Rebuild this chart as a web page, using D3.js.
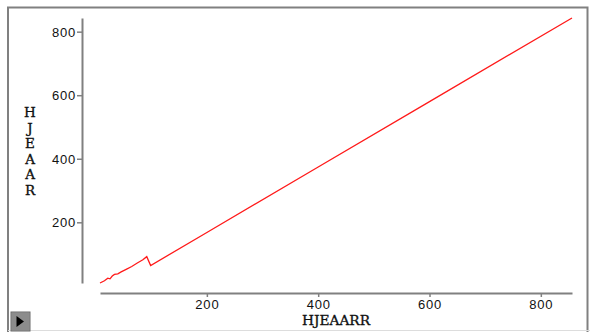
<!DOCTYPE html>
<html><head><meta charset="utf-8">
<script src="https://cdn.jsdelivr.net/npm/d3@7"></script>
<style>
html,body{margin:0;padding:0;background:#fff;}
svg{display:block;}
</style></head>
<body>
<svg id="c" width="590" height="332"></svg>
<script>
const xValues = [8, 16, 22, 26, 30, 34, 40, 46, 55, 65, 75, 85, 92, 99, 200, 400, 600, 856];
const yValues = [9, 16, 24, 22, 31, 36, 38, 44, 52, 61, 72, 82, 92, 64, 168, 374, 580, 843];
const xTicks = [200, 400, 600, 800];
const yTicks = [200, 400, 600, 800];
const xTitle = "HJEAARR";
const yTitle = "HJEAAR";

const svg = d3.select("#c");
const gray = "#808080";

// frame
svg.append("rect").attr("x",8).attr("y",7.5).attr("width",579.5).attr("height",340)
  .attr("fill","none").attr("stroke",gray).attr("stroke-width",2);
svg.append("line").attr("x1",8).attr("x2",590).attr("y1",330.5).attr("y2",330.5)
  .attr("stroke","#ddd").attr("stroke-width",1);

const x = d3.scaleLinear().domain(d3.extent(xValues)).range([100, 572]);
const y = d3.scaleLinear().domain(d3.extent(yValues)).range([283, 18]);

const tickFont = "'Liberation Sans', Arial, sans-serif";

const xAxis = svg.append("g").attr("transform","translate(0,293)")
  .call(d3.axisBottom(x).tickValues(xTicks).tickSize(4).tickPadding(3).tickSizeOuter(0));
const yAxis = svg.append("g").attr("transform","translate(82,0)")
  .call(d3.axisLeft(y).tickValues(yTicks).tickSize(5).tickPadding(1).tickSizeOuter(0));
[xAxis, yAxis].forEach(g => {
  g.select(".domain").attr("stroke", gray).attr("stroke-width", 2);
  g.selectAll(".tick line").attr("stroke", gray).attr("stroke-width", 1.5);
  g.selectAll(".tick text").attr("fill","#111").style("font-family", tickFont)
    .style("font-size","13px").style("letter-spacing","0.8px");
});
xAxis.selectAll(".tick text").attr("dy","0.71em");
yAxis.selectAll(".tick text").attr("dy","0.34em");

// line
const pts = xValues.map((v,i)=>[v, yValues[i]]);
svg.append("path").datum(pts)
  .attr("d", d3.line().x(d=>x(d[0])).y(d=>y(d[1])))
  .attr("fill","none").attr("stroke","#ff1a1a").attr("stroke-width",1.3);

// titles
const titleFont = "'DejaVu Serif', serif";
svg.append("text").attr("x",336).attr("y",325).attr("text-anchor","middle")
  .style("font-family",titleFont).style("font-size","13.5px")
  .attr("textLength",68).attr("lengthAdjust","spacingAndGlyphs")
  .attr("fill","#111").attr("stroke","#111").attr("stroke-width",0.35).text(xTitle);
yTitle.split("").forEach((ch,i)=>{
  svg.append("text").attr("x",30).attr("y",117 + i*15.6).attr("text-anchor","middle")
    .style("font-family",titleFont).style("font-size","13.5px")
    .attr("fill","#111").attr("stroke","#111").attr("stroke-width",0.35).text(ch);
});

// play button
svg.append("rect").attr("x",11).attr("y",312).attr("width",19).attr("height",19)
  .attr("fill","#9a9a9a").attr("stroke","#6a6a6a").attr("stroke-width",1);
svg.append("rect").attr("x",12).attr("y",313).attr("width",17).attr("height",17)
  .attr("fill","#8c8c8c");
svg.append("path").attr("d","M16.5,316 L24,321.5 L16.5,327 Z").attr("fill","#000");
</script>
</body></html>
